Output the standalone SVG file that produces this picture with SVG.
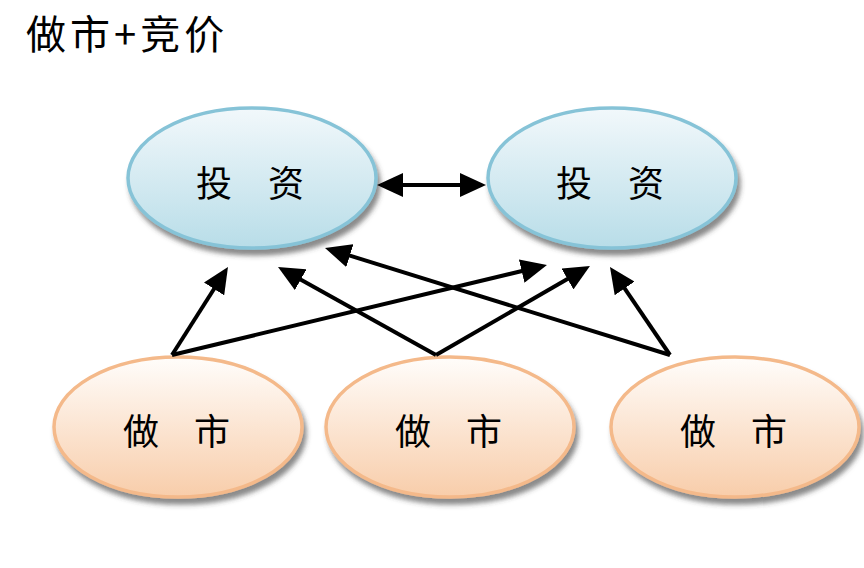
<svg xmlns="http://www.w3.org/2000/svg" width="864" height="568" viewBox="0 0 864 568">
<style>
  .lbl { font-family: "Noto Sans CJK SC", "Liberation Serif", serif; font-size: 36px; fill: #000; text-anchor: middle; }
  .title { font-family: "Noto Sans CJK SC", "Liberation Serif", serif; font-size: 40px; fill: #000; letter-spacing: 4px; }
  .inv { fill: url(#gBlue); stroke: #86c3d7; stroke-width: 3.5; filter: url(#sh); }
  .mkt { fill: url(#gPeach); stroke: #f4b98a; stroke-width: 3.5; filter: url(#sh); }
  .conn line { stroke: #000; stroke-width: 4; marker-end: url(#ah); }
</style>
<defs>
  <linearGradient id="gBlue" x1="0" y1="0" x2="0" y2="1">
    <stop offset="0" stop-color="#f2f8fb"/>
    <stop offset="1" stop-color="#b8dde8"/>
  </linearGradient>
  <linearGradient id="gPeach" x1="0" y1="0" x2="0" y2="1">
    <stop offset="0" stop-color="#fffdfb"/>
    <stop offset="1" stop-color="#f8cdaa"/>
  </linearGradient>
  <filter id="sh" x="-20%" y="-20%" width="150%" height="150%">
    <feDropShadow dx="3" dy="6" stdDeviation="2.5" flood-color="#3a3a3a" flood-opacity="0.6"/>
  </filter>
  <marker id="ah" markerUnits="userSpaceOnUse" markerWidth="26" markerHeight="24" refX="10" refY="12" orient="auto-start-reverse" viewBox="0 0 26 24">
    <path d="M0,0 L26,12 L0,24 z" fill="#000"/>
  </marker>
</defs>

<text class="title" x="26" y="49">做市+竞价</text>

<g id="inv1">
  <ellipse class="inv" cx="252" cy="178" rx="124" ry="70"/>
  <text class="lbl" y="197"><tspan x="218">投</tspan> <tspan x="286">资</tspan></text>
</g>
<g id="inv2">
  <ellipse class="inv" cx="612" cy="178" rx="124" ry="70"/>
  <text class="lbl" y="197"><tspan x="578">投</tspan> <tspan x="646">资</tspan></text>
</g>
<g id="mm1">
  <ellipse class="mkt" cx="178" cy="427" rx="124" ry="70"/>
  <text class="lbl" y="445"><tspan x="145">做</tspan> <tspan x="212">市</tspan></text>
</g>
<g id="mm2">
  <ellipse class="mkt" cx="450" cy="427" rx="124" ry="70"/>
  <text class="lbl" y="445"><tspan x="417">做</tspan> <tspan x="484">市</tspan></text>
</g>
<g id="mm3">
  <ellipse class="mkt" cx="735" cy="427" rx="124" ry="70"/>
  <text class="lbl" y="445"><tspan x="702">做</tspan> <tspan x="769">市</tspan></text>
</g>

<g id="connectors" class="conn">
  <line x1="393" y1="185" x2="470" y2="185" style="marker-start:url(#ah)"/>
  <line x1="172" y1="355" x2="219.4" y2="280.5"/>
  <line x1="172" y1="355" x2="531.4" y2="268.7"/>
  <line x1="436" y1="355" x2="292" y2="274.8"/>
  <line x1="436" y1="355" x2="576.1" y2="274"/>
  <line x1="670" y1="355" x2="340.3" y2="252.7"/>
  <line x1="670" y1="355" x2="619" y2="280.2"/>
</g>
</svg>
